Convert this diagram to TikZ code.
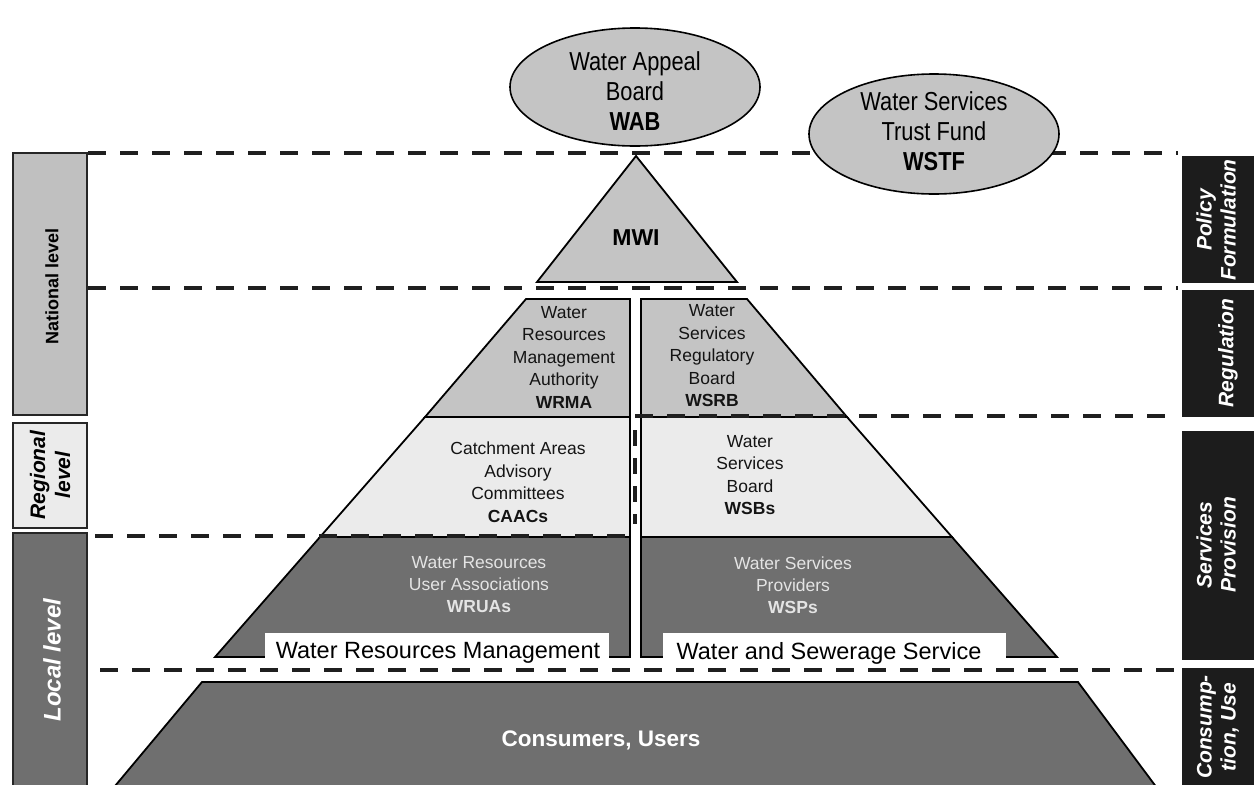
\documentclass[tikz,border=0pt]{standalone}
\usepackage{fontspec}
\setmainfont{Liberation Sans}
\newfontfamily\narrowfont[FakeStretch=0.84]{Liberation Sans}
\usetikzlibrary{shapes.geometric}
\definecolor{regfill}{HTML}{C4C4C4}
\definecolor{svcfill}{HTML}{EBEBEB}
\definecolor{locfill}{HTML}{6F6F6F}
\definecolor{natfill}{HTML}{C0C0C0}
\definecolor{sidefill}{HTML}{1C1C1C}
\definecolor{lighttext}{HTML}{E4E4E4}
\begin{document}
\begin{tikzpicture}[x=1pt,y=-1pt,
  dashline/.style={line width=4.5pt, dash pattern=on 18pt off 14pt, draw=black!88},
  shapeline/.style={draw=black, line width=1.8pt, line join=miter},
  barline/.style={draw=black!85, line width=1.5pt},
  ovaltext/.style={align=center, inner sep=0pt, font=\narrowfont\fontsize{26}{30}\selectfont},
  midtext/.style={align=center, inner sep=0pt, text=black!92, font=\fontsize{17.5}{22.5}\selectfont},
  lowtext/.style={align=center, inner sep=0pt, text=lighttext, font=\fontsize{17.5}{22}\selectfont},
  labeltext/.style={inner sep=0pt, font=\fontsize{23.5}{26}\selectfont},
  sidetext/.style={align=center, inner sep=0pt, rotate=90, text=white, font=\bfseries\itshape\fontsize{21}{24}\selectfont},
  lefttext/.style={align=center, inner sep=0pt, rotate=90, font=\bfseries\fontsize{18}{22}\selectfont}]
\fill[white] (0,0) rectangle (1254,785);
\clip (0,0) rectangle (1254,785);

% dashed level lines (behind)
\draw[dashline] (88,153) -- (1178,153);
\draw[dashline] (88,288) -- (1178,288);
\draw[dashline] (100,670) -- (1178,670);

% ellipses
\draw[shapeline, fill=regfill, line width=1.6pt] (635,87) ellipse [x radius=125, y radius=59];
\node[ovaltext] (wab) at (635,91) {Water Appeal\\Board\\\textbf{WAB}};
\draw[shapeline, fill=regfill, line width=1.6pt] (934,134) ellipse [x radius=125, y radius=60];
\node[ovaltext] (wstf) at (934,131) {Water Services\\Trust Fund\\\textbf{WSTF}};

% MWI triangle
\draw[shapeline, fill=regfill] (636,156) -- (737,282) -- (537,282) -- cycle;
\node[inner sep=0pt, font=\bfseries\fontsize{23}{26}\selectfont] (mwi) at (636,238) {MWI};

% regulation level
\draw[shapeline, fill=regfill] (526,299) -- (630,299) -- (630,417) -- (425,417) -- cycle;
\draw[shapeline, fill=regfill] (641,299) -- (747,299) -- (847,417) -- (641,417) -- cycle;
\node[midtext] (wrma) at (564,357) {Water\\Resources\\Management\\Authority\\\textbf{WRMA}};
\node[midtext] (wsrb) at (712,356) {Water\\Services\\Regulatory\\Board\\\textbf{WSRB}};

% services level
\draw[shapeline, fill=svcfill] (425,417) -- (630,417) -- (630,537) -- (320,537) -- cycle;
\draw[shapeline, fill=svcfill] (641,417) -- (847,417) -- (952,537) -- (641,537) -- cycle;
\node[midtext] (caac) at (518,482) {Catchment Areas\\Advisory\\Committees\\\textbf{CAACs}};
\node[midtext] (wsb) at (750,475) {Water\\Services\\Board\\\textbf{WSBs}};

% local level
\draw[shapeline, fill=locfill] (320,537) -- (630,537) -- (630,657) -- (215,657) -- cycle;
\draw[shapeline, fill=locfill] (641,537) -- (952,537) -- (1057,657) -- (641,657) -- cycle;
\node[lowtext] (wrua) at (479,585) {Water Resources\\User Associations\\\textbf{WRUAs}};
\node[lowtext] (wsp) at (793,585) {Water Services\\Providers\\\textbf{WSPs}};

% column labels
\fill[white] (265,633) rectangle (609,664);
\fill[white] (663,633) rectangle (1006,664);
\node[labeltext] (wrmlabel) at (438,653) {Water Resources Management};
\node[labeltext] (wsslabel) at (829,653) {Water and Sewerage Service};

% consumers
\draw[shapeline, fill=locfill] (202,682) -- (1078,682) -- (1160,792) -- (110,792) -- cycle;
\node[inner sep=0pt, text=white, font=\bfseries\fontsize{22.5}{26}\selectfont] (users) at (601,740) {Consumers, Users};

% dashed lines on top
\draw[dashline] (635,416) -- (1178,416);
\draw[dashline] (95,536) -- (636,536);
\draw[dashline, dash pattern=on 16pt off 12pt] (635,430) -- (635,524);

% left level bars
\draw[barline, fill=natfill] (13,153) rectangle (87,415);
\draw[barline, fill=svcfill] (13,423) rectangle (87,528);
\draw[barline, fill=locfill] (13,533) rectangle (87,800);
\node[lefttext] (nat) at (52,286) {National level};
\node[lefttext, font=\bfseries\itshape\fontsize{21}{25}\selectfont] (regl) at (50,475) {Regional\\level};
\node[lefttext, text=white, font=\bfseries\itshape\fontsize{24}{28}\selectfont] (locl) at (52,660) {Local level};

% right function bars
\fill[sidefill] (1182,156) rectangle (1270,283);
\fill[sidefill] (1182,290) rectangle (1270,417);
\fill[sidefill] (1182,431) rectangle (1270,660);
\fill[sidefill] (1182,668) rectangle (1270,800);
\node[sidetext] (pol) at (1216,220) {Policy\\Formulation};
\node[sidetext] (regu) at (1228,353) {Regulation};
\node[sidetext] (serv) at (1216,545) {Services\\Provision};
\node[sidetext] (cons) at (1218,727) {Consump-\\tion, Use};
\end{tikzpicture}
\end{document}
